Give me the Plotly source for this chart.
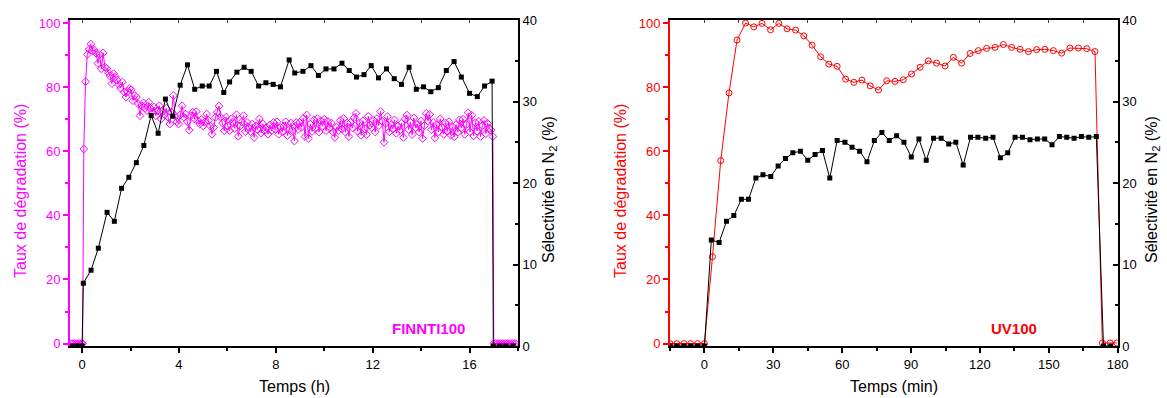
import plotly.graph_objects as go

# ---------------- Left panel (FINNTI100), time in hours ----------------
# Degradation rate (%) – magenta open diamonds, sampled every ~0.0725 h from t=0.07 h
deg_L_t0 = 0.07
deg_L_step = 0.0725
deg_L_vals = [
    60.7, 81.7, 90.2, 91.8, 93.4, 91.3, 91.6, 90.6, 87.4, 90.2,
    85.7, 90.7, 86.3, 85.8, 84.5, 83.5, 81.1, 84.2, 83.2, 82.2,
    80.8, 79.7, 81.6, 78.5, 76.9, 78.6, 79.5, 79.2, 75.8, 77.4,
    76.9, 74.8, 71.1, 74.2, 75.1, 73.4, 72.7, 75.3, 73.4, 72.2,
    73.8, 71.1, 72.7, 74.2, 70.1, 72.4, 71.4, 73.4, 70.6, 68.5,
    72.2, 77.4, 71.1, 69.2, 68.5, 71.4, 74.2, 70.6, 71.6, 69.2,
    66.6, 71.1, 72.2, 70.1, 72.4, 69.6, 68.5, 69.9, 67.9, 69.2,
    71.6, 69.6, 67.9, 65.3, 67.4, 70.6, 72.2, 74.1, 70.6, 68.8,
    66.4, 70.6, 67.9, 66.4, 70.1, 69.0, 67.1, 71.4, 64.7, 67.9,
    69.2, 71.1, 66.1, 69.0, 67.4, 66.1, 68.5, 64.3, 67.9, 66.8,
    70.1, 65.7, 68.5, 66.4, 67.4, 65.3, 68.2, 66.4, 69.0, 66.8,
    69.2, 65.3, 67.4, 66.1, 67.9, 69.2, 64.9, 66.8, 68.8, 66.4,
    63.2, 69.0, 66.8, 69.0,
    67.5, 70.3, 64.6, 71.3, 64.0, 68.5, 66.2, 69.8, 67.0, 70.2,
    66.0, 69.5, 67.8, 70.0, 66.4, 69.3, 67.2, 68.8, 66.0, 64.3,
    67.5, 66.5, 69.6, 67.0, 70.2, 66.0, 68.8, 64.6, 69.0, 67.3,
    70.5, 71.8, 66.2, 68.9, 65.0, 69.5, 67.0, 65.2, 70.9, 68.2,
    67.4, 69.7, 66.0, 70.2, 68.0, 72.4, 69.3, 62.8, 68.6, 70.8,
    66.1, 68.3, 67.0, 69.8, 65.6, 67.9, 66.5, 68.8, 64.3, 70.0,
    71.3, 66.8, 69.0, 65.2, 70.4, 67.3, 68.5, 66.0, 69.4, 64.0,
    68.0, 71.8, 69.5, 71.5, 66.7, 69.0, 64.2, 68.3, 66.0, 70.1,
    67.5, 65.3, 68.8, 66.2, 69.2, 65.0, 67.6, 64.5, 68.3, 66.0,
    69.8, 67.2, 70.0, 65.3, 68.4, 72.0, 66.0, 71.2, 64.8, 68.9,
    66.3, 69.3, 64.6, 68.0, 69.6, 65.5, 68.7, 67.2, 66.6, 64.6,
]
deg_L_pre_t = [-0.45, -0.38, -0.31, -0.24, -0.17, -0.10, -0.03, 0.02]
deg_L_post_t = [17.00, 17.07, 17.14, 17.21, 17.28, 17.35, 17.42, 17.49,
                17.56, 17.63, 17.70, 17.77, 17.84, 17.91]

# N2 selectivity (%) – black squares
sel_L_t = [-0.42, -0.2, 0.0, 0.05, 0.37, 0.67, 1.03, 1.33, 1.63, 1.93,
           2.24, 2.55, 2.85, 3.14, 3.44, 3.74, 4.05, 4.35, 4.65, 4.96,
           5.25, 5.55, 5.85, 6.09, 6.39, 6.69, 6.98, 7.29, 7.59, 7.89,
           8.19, 8.55, 8.78, 9.12, 9.45, 9.76, 10.07, 10.40, 10.73, 11.03,
           11.33, 11.64, 11.94, 12.24, 12.57, 12.89, 13.19, 13.50, 13.80, 14.10,
           14.40, 14.71, 15.04, 15.36, 15.66, 16.00, 16.32, 16.62, 16.93, 16.98,
           17.25, 17.5, 17.8]
sel_L_v = [0, 0, 0, 7.7, 9.3, 12.0, 16.4, 15.3, 19.35, 20.7,
           22.5, 24.6, 28.3, 26.1, 30.3, 28.2, 32.0, 34.5, 31.5, 31.9,
           31.9, 33.7, 31.1, 32.4, 33.6, 34.2, 33.7, 31.9, 32.3, 32.1,
           31.8, 35.1, 33.5, 33.7, 34.4, 33.2, 34.0, 34.0, 34.7, 33.8,
           33.0, 33.3, 34.4, 32.9, 34.0, 32.8, 32.1, 34.2, 31.5, 31.8,
           31.2, 31.7, 33.8, 34.9, 33.0, 31.0, 30.6, 31.9, 32.5, 0,
           0, 0, 0]

# ---------------- Right panel (UV100), time in minutes ----------------
deg_R_t = [-15, -12, -9, -6, -3, 0, 3.5, 7.1, 10.7, 14.2,
           17.9, 21.5, 25.1, 28.8, 32.4, 36.0, 39.7, 43.3, 46.9, 50.6,
           54.2, 57.8, 61.5, 65.1, 68.6, 72.2, 75.8, 79.4, 83.0, 86.6,
           90.2, 93.9, 97.5, 101.1, 104.8, 108.4, 112.0, 115.7, 119.3, 122.9,
           126.6, 130.2, 133.8, 137.5, 141.1, 144.7, 148.3, 152.0, 155.6, 159.2,
           162.9, 166.5, 170.1, 173.3, 176.7, 179.6]
deg_R_v = [0, 0, 0, 0, 0, 0, 27.1, 57.1, 78.2, 94.7,
           100.0, 98.8, 99.9, 97.9, 99.9, 98.2, 97.8, 96.0, 93.1, 89.5,
           87.2, 86.5, 82.5, 81.5, 82.2, 80.4, 79.1, 82.0, 81.8, 82.3,
           84.1, 86.2, 88.2, 87.5, 86.6, 89.3, 87.5, 90.5, 91.4, 92.1,
           92.4, 93.3, 92.4, 91.8, 91.1, 91.7, 91.8, 91.4, 90.6, 92.2,
           92.2, 92.0, 91.1, 0.2, 0.2, 0.2]

sel_R_t = [-15, -12, -9, -6, -3, 0, 3.0, 6.4, 9.6, 12.8,
           16.1, 19.2, 22.4, 25.5, 28.9, 32.1, 35.3, 38.5, 41.8, 45.0,
           48.2, 51.4, 54.6, 57.8, 61.2, 64.3, 67.6, 70.8, 74.0, 77.3,
           80.5, 83.7, 86.9, 90.1, 93.4, 96.6, 99.8, 103.1, 106.4, 109.5,
           112.7, 115.9, 119.1, 122.5, 125.7, 128.9, 132.1, 135.3, 138.5, 141.8,
           145.0, 148.2, 151.4, 154.6, 157.8, 161.0, 164.2, 167.4, 170.7, 173.8,
           177.0]
sel_R_v = [0, 0, 0, 0, 0, 0, 13.0, 12.7, 15.3, 16.0,
           18.0, 18.0, 20.6, 21.0, 20.8, 22.1, 23.0, 23.7, 23.9, 22.8,
           23.5, 24.0, 20.6, 25.2, 25.0, 24.4, 23.9, 22.6, 25.2, 26.2,
           25.2, 25.8, 25.0, 23.2, 25.4, 22.8, 25.5, 25.5, 24.8, 25.0,
           22.2, 25.6, 25.6, 25.5, 25.6, 23.1, 23.7, 25.6, 25.6, 25.3,
           25.4, 25.4, 24.7, 25.7, 25.6, 25.5, 25.7, 25.6, 25.7, 0,
           0]

# ---------------- Figure ----------------
MAG = "#FF00FF"
RED = "#FF0000"
FONT = "Liberation Sans, Arial, sans-serif"

deg_L_t = [deg_L_t0 + i * deg_L_step for i in range(len(deg_L_vals))]
mag_x = deg_L_pre_t + deg_L_t + deg_L_post_t
mag_y = [0] * len(deg_L_pre_t) + deg_L_vals + [0] * len(deg_L_post_t)

fig = go.Figure()
fig.add_trace(go.Scatter(
    x=mag_x, y=mag_y, xaxis="x", yaxis="y", mode="lines+markers",
    line=dict(color=MAG, width=1),
    marker=dict(symbol="diamond-open", size=6, color=MAG, line=dict(width=1, color=MAG)),
    showlegend=False, hoverinfo="skip"))
fig.add_trace(go.Scatter(
    x=sel_L_t, y=sel_L_v, xaxis="x", yaxis="y2", mode="lines+markers",
    line=dict(color="black", width=1),
    marker=dict(symbol="square", size=5, color="black"),
    showlegend=False, hoverinfo="skip"))
fig.add_trace(go.Scatter(
    x=deg_R_t, y=deg_R_v, xaxis="x2", yaxis="y3", mode="lines+markers",
    line=dict(color=RED, width=1),
    marker=dict(symbol="circle-open", size=6, color=RED, line=dict(width=1, color=RED)),
    showlegend=False, hoverinfo="skip"))
fig.add_trace(go.Scatter(
    x=sel_R_t, y=sel_R_v, xaxis="x2", yaxis="y4", mode="lines+markers",
    line=dict(color="black", width=1),
    marker=dict(symbol="square", size=5, color="black"),
    showlegend=False, hoverinfo="skip"))
# dummy traces so top tick overlay axes are drawn
fig.add_trace(go.Scatter(x=[None], y=[None], xaxis="x3", yaxis="y", showlegend=False, hoverinfo="skip"))
fig.add_trace(go.Scatter(x=[None], y=[None], xaxis="x4", yaxis="y3", showlegend=False, hoverinfo="skip"))

W, H = 1167, 398
xd1 = [70 / W, 518 / W]
xd2 = [670 / W, 1117.7 / W]
yd = [52 / H, 378 / H]
tickfont = dict(family=FONT, size=13, color="black")

def xax(domain, rng, dtick, mdtick, anchor):
    return dict(domain=domain, range=rng, anchor=anchor, dtick=dtick, tick0=0, automargin=False,
                ticks="outside", ticklen=5, tickwidth=1.5, tickcolor="black",
                minor=dict(dtick=mdtick, tick0=0, ticks="outside", ticklen=3, tickwidth=1.5, tickcolor="black"),
                showline=True, linecolor="black", linewidth=2, mirror=True,
                showgrid=False, zeroline=False, tickfont=tickfont)

def ylax(rng, color, anchor):
    return dict(domain=yd, range=rng, anchor=anchor, dtick=20, tick0=0, automargin=False,
                ticks="outside", ticklen=5, tickwidth=1.5, tickcolor=color,
                minor=dict(dtick=10, tick0=0, ticks="outside", ticklen=3, tickwidth=1.5, tickcolor=color),
                showline=True, linecolor=color, linewidth=2,
                showgrid=False, zeroline=False,
                tickfont=dict(family=FONT, size=13, color=color))

def yrax(overlay, anchor):
    return dict(overlaying=overlay, anchor=anchor, side="right", range=[0, 40], dtick=10, tick0=0,
                automargin=False,
                ticks="inside", ticklen=5, tickwidth=1.5, tickcolor="black",
                minor=dict(dtick=5, tick0=0, ticks="inside", ticklen=3, tickwidth=1.5, tickcolor="black"),
                showline=True, linecolor="black", linewidth=2,
                showgrid=False, zeroline=False, tickfont=tickfont)

def topax(overlay, rng, dtick, anchor):
    return dict(overlaying=overlay, side="top", anchor=anchor, range=rng, dtick=dtick, tick0=0,
                automargin=False,
                ticks="inside", ticklen=3, tickwidth=1, tickcolor="#444",
                showticklabels=False, showline=False, showgrid=False, zeroline=False)

yrng = [-0.75, 100.95]
fig.update_layout(
    template="none",
    width=W, height=H, margin=dict(l=0, r=0, t=0, b=0, pad=0),
    paper_bgcolor="white", plot_bgcolor="white",
    font=dict(family=FONT, size=13, color="black"),
    showlegend=False,
    xaxis=xax(xd1, [-0.5, 18], 4, 2, "y"),
    yaxis=ylax(yrng, MAG, "x"),
    yaxis2=yrax("y", "x"),
    xaxis2=xax(xd2, [-15, 180], 30, 15, "y3"),
    yaxis3=ylax(yrng, RED, "x2"),
    yaxis4=yrax("y3", "x2"),
    xaxis3=topax("x", [-0.5, 18], 2, "y"),
    xaxis4=topax("x2", [-15, 180], 15, "y3"),
)

def ann(text, x, y, color="black", size=16, angle=0, bold=False):
    fig.add_annotation(text=("<b>%s</b>" % text) if bold else text,
                       x=x / W, y=1 - y / H, xref="paper", yref="paper",
                       showarrow=False, textangle=angle, xanchor="center", yanchor="middle",
                       font=dict(family=FONT, size=size, color=color))

ann("Temps (h)", 294, 386)
ann("Temps (min)", 894, 386)
ann("Taux de dégradation (%)", 20, 191, color=MAG, angle=-90)
ann("Taux de dégradation (%)", 620, 191, color=RED, angle=-90)
ann("Sélectivité en N<sub>2</sub> (%)", 550, 190, angle=-90)
ann("Sélectivité en N<sub>2</sub> (%)", 1153, 190, angle=-90)
ann("FINNTI100", 428, 328, color=MAG, size=15, bold=True)
ann("UV100", 1014, 328, color=RED, size=15, bold=True)

fig.write_html(
    "out.html",
    config={"displayModeBar": False},
    post_script="document.body.style.margin='0px';document.body.style.overflow='hidden';",
)
